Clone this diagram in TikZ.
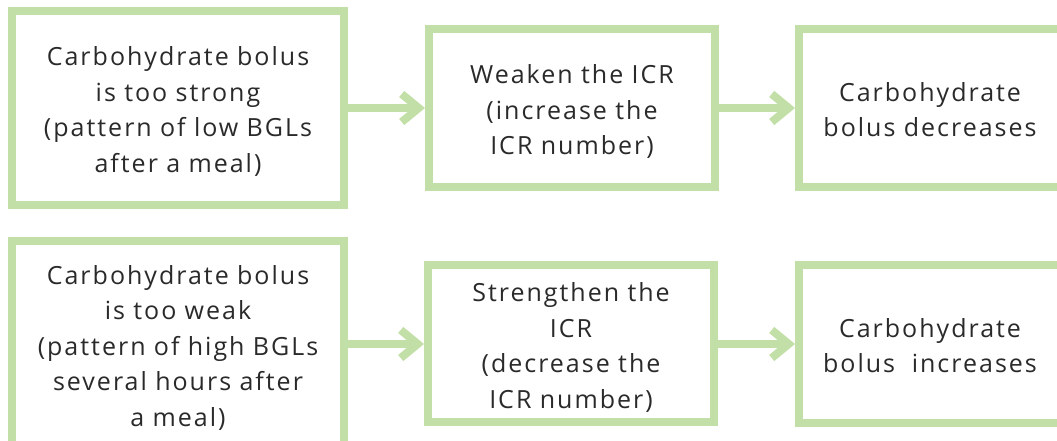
\documentclass[tikz,border=0pt]{standalone}
\usepackage{fontspec}
\setmainfont[LetterSpace=8]{Open Sans}
\usetikzlibrary{arrows.meta}

\definecolor{boxgreen}{HTML}{C3DFA8}
\definecolor{txtgray}{HTML}{2A2A2A}

\begin{document}
\begin{tikzpicture}[x=1pt, y=1pt,
  stepbox/.style={draw=boxgreen, line width=8pt, fill=white, align=center,
    text width=250pt, text=txtgray, inner sep=0pt,
    font=\fontsize{25}{35.5}\selectfont,
    execute at begin node={\parindent=0pt\rule{0pt}{30.5pt}},
    execute at end node={\rule[-8pt]{0pt}{0pt}}},
  flow/.style={draw=boxgreen, line width=8pt,
    -{Straight Barb[length=17pt, width=28pt, sharp]}}]

\clip (0,0) rectangle (1057,441);

% Row 1 -- bolus too strong
\node[stepbox, text width=320pt, minimum width=332pt, minimum height=194pt]
  (strong) at (178,333)
  {Carbohydrate bolus\\is too strong\\(pattern of low BGLs\\after a meal)};
\node[stepbox, minimum width=286pt, minimum height=158pt] (weaken) at (572,333)
  {Weaken the ICR\\(increase the\\ICR number)};
\node[stepbox, minimum width=262pt, minimum height=158pt] (decr) at (930,333)
  {Carbohydrate\\bolus decreases};
\draw[flow] (strong) -- (weaken);
\draw[flow] (weaken) -- (decr);

% Row 2 -- bolus too weak
\node[stepbox, text width=320pt, minimum width=332pt, minimum height=206pt]
  (weak) at (178,97)
  {Carbohydrate bolus\\is too weak\\(pattern of high BGLs\\several hours after\\a meal)};
\node[stepbox, minimum width=286pt, minimum height=157pt] (strengthen) at (571,97)
  {Strengthen the\\ICR\\(decrease the\\ICR number)};
\node[stepbox, minimum width=262pt, minimum height=158pt] (incr) at (930,97)
  {Carbohydrate\\bolus\ \ increases};
\draw[flow] (weak) -- (strengthen);
\draw[flow] (strengthen) -- (incr);

\end{tikzpicture}
\end{document}
